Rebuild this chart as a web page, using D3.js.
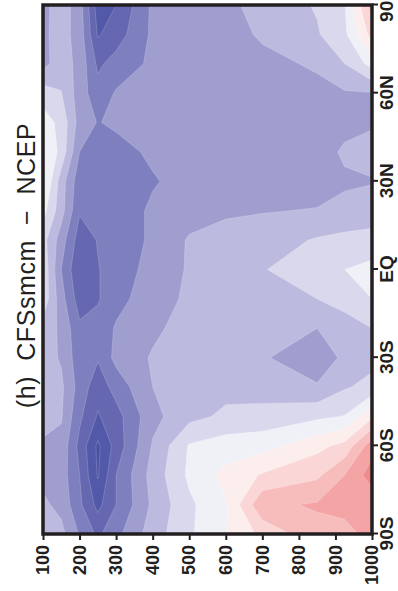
<!DOCTYPE html>
<html lang="en">
<head>
<meta charset="UTF-8">
<title>CFSsmcm - NCEP</title>
<script src="https://d3js.org/d3.v7.min.js"></script>
<style>
    body { margin: 0; background: #fff; }
    svg text { font-family: "Liberation Sans", Arial, Helvetica, sans-serif; fill: #231f20; }
</style>
</head>
<body>
<svg id="chart" width="398" height="591"></svg>
<script>
    // grid of the field: latitudes and pressure levels (hPa)
    const lats = [-90, -80, -70, -60, -50, -40, -30, -20, -10, 0, 10, 20, 30, 40, 50, 60, 70, 80, 90];
    const plev = [100, 150, 200, 250, 300, 400, 500, 600, 700, 850, 925, 1000];

    // difference at each latitude, one value per level of plev
    const d90S = [-2.4, -2.7, -4.1, -5.2, -4.3, -2.5, -1.15, -0.03, 1.25, 2.7, 2.9, 3.1];
    const d80S = [-2.8, -3.3, -4.8, -6.3, -5.0, -2.8, -1.2, -0.1, 2.8, 3.1, 3.1, 3.3];
    const d70S = [-3.3, -3.5, -5.0, -7.1, -5.0, -2.6, -0.8, 0.3, 1.1, 1.8, 3.0, 4.5];
    const d60S = [-3.2, -3.3, -5.3, -7.2, -5.6, -2.9, -0.9, -0.5, -0.4, 0.7, 1.3, 3.6];
    const d50S = [-2.5, -2.9, -4.8, -6.1, -5.4, -3.3, -2.3, -1.8, -1.6, -1.2, -0.95, 0.8];
    const d40S = [-2.5, -2.8, -4.4, -5.6, -4.6, -3.0, -2.5, -2.3, -2.5, -2.9, -2.1, -1.7];
    const d30S = [-2.6, -3.1, -4.6, -4.9, -3.7, -2.9, -2.7, -2.6, -2.9, -3.6, -2.8, -2.3];
    const d20S = [-2.4, -3.2, -4.8, -4.6, -3.9, -3.2, -2.6, -2.5, -2.6, -3.0, -2.6, -2.0];
    const d10S = [-1.3, -3.6, -5.5, -5.1, -4.3, -3.5, -2.8, -2.6, -2.4, -2.0, -1.5, -1.0];
    const dEQ  = [-1.2, -4.0, -5.9, -5.05, -4.6, -3.6, -2.9, -2.5, -2.05, -1.5, -1.0, -0.7];
    const d10N = [-1.6, -3.5, -5.5, -4.95, -4.7, -3.8, -2.9, -2.5, -2.5, -1.9, -1.7, -1.6];
    const d20N = [-0.6, -2.6, -4.9, -4.9, -4.7, -3.8, -3.4, -3.2, -3.05, -2.95, -2.8, -2.6];
    const d30N = [0.3, -2.5, -4.6, -4.8, -4.8, -4.1, -3.6, -3.5, -3.5, -3.4, -3.1, -3.05];
    const d40N = [0.1, -1.3, -4.0, -4.6, -4.4, -3.8, -3.5, -3.3, -3.4, -3.3, -2.9, -2.7];
    const d50N = [-0.5, -1.3, -3.4, -4.05, -3.8, -3.5, -3.4, -3.4, -3.4, -3.3, -3.2, -3.1];
    const d60N = [-1.5, -1.95, -3.5, -4.6, -3.9, -3.7, -3.5, -3.4, -3.3, -3.2, -3.1, -3.05];
    const d70N = [-3.3, -2.5, -3.3, -5.2, -4.6, -3.8, -3.4, -3.3, -3.2, -2.9, -2.0, -0.6];
    const d80N = [-3.2, -2.6, -3.4, -6.1, -5.5, -3.8, -3.5, -3.3, -2.9, -2.1, -1.2, 1.4];
    const d90N = [-3.3, -2.5, -3.5, -6.5, -6.0, -3.8, -3.5, -3.2, -2.7, -1.9, -1.05, 2.5];
    const rows = [d90S, d80S, d70S, d60S, d50S, d40S, d30S, d20S, d10S, dEQ,
                  d10N, d20N, d30N, d40N, d50N, d60N, d70N, d80N, d90N];

    // contour levels and shades
    const levels = [-7, -6, -5, -4, -3, -2, -1, 0, 1, 2, 3, 4, 5];
    const shades = ["#5259a8", "#6567b0", "#7e7fbe", "#9f9ecf", "#bcbbdf", "#d9d8ec", "#f0f0f7",
                    "#fdeeee", "#fad6d6", "#f7bdbd", "#f4a4a5", "#f08b8d", "#ec7274"];
    const lowShade = "#4a51a2";

    const pTicks = [100, 200, 300, 400, 500, 600, 700, 800, 900, 1000];
    const latTicks = [-90, -60, -30, 0, 30, 60, 90];
    const title = "(h)  CFSsmcm  \u2212  NCEP";

    // plot drawn unrotated, then the whole group is turned 90 deg counterclockwise
    const plotW = 529, plotH = 329;
    const svg = d3.select("#chart");
    const g = svg.append("g").attr("transform", "translate(43,534) rotate(-90)");

    const x = d3.scaleLinear().domain([-90, 90]).range([0, plotW]);
    const y = d3.scaleLinear().domain([100, 1000]).range([0, plotH]);

    // grid values, row = pressure level, column = latitude
    const n = lats.length, m = plev.length;
    const values = new Array(n * m);
    rows.forEach((r, i) => r.forEach((v, j) => { values[j * n + i] = v; }));

    // contour coords: sample i sits at i + 0.5
    const gridLat = d3.scaleLinear().domain(lats.map((d, i) => i + 0.5)).range(lats);
    const gridP = d3.scaleLinear().domain(plev.map((d, j) => j + 0.5)).range(plev);
    const proj = d3.geoTransform({
        point(px, py) { this.stream.point(x(gridLat(px)), y(gridP(py))); }
    });
    const path = d3.geoPath(proj);

    const contours = d3.contours().size([n, m]).thresholds(levels)(values);

    g.append("clipPath").attr("id", "clip")
        .append("rect").attr("width", plotW).attr("height", plotH);

    const field = g.append("g").attr("clip-path", "url(#clip)");
    field.append("rect").attr("width", plotW).attr("height", plotH).attr("fill", lowShade);
    field.selectAll("path")
        .data(contours)
        .enter().append("path")
        .attr("d", path)
        .attr("fill", (d, i) => shades[i])
        .attr("stroke", "#ffffff")
        .attr("stroke-opacity", 0.3)
        .attr("stroke-width", 0.6);

    // pressure axis (ends up under the plot)
    const pAxis = g.append("g")
        .call(d3.axisLeft(y).tickValues(pTicks).tickFormat(d3.format("d")).tickSize(6).tickPadding(5));
    // latitude axis (ends up right of the plot)
    const latFmt = d => d === 0 ? "EQ" : Math.abs(d) + (d < 0 ? "S" : "N");
    const latAxis = g.append("g")
        .attr("transform", "translate(0," + plotH + ")")
        .call(d3.axisBottom(x).tickValues(latTicks).tickFormat(latFmt).tickSize(6).tickPadding(2));

    [pAxis, latAxis].forEach(ax => {
        ax.select(".domain").remove();
        ax.selectAll(".tick line").attr("stroke", "#231f20").attr("stroke-width", 2);
        ax.selectAll(".tick text")
            .attr("fill", "#231f20")
            .style("font-weight", "bold");
    });
    pAxis.selectAll(".tick text").style("font-size", "18px");
    latAxis.selectAll(".tick text").style("font-size", "19px");

    // frame
    g.append("rect")
        .attr("width", plotW).attr("height", plotH)
        .attr("fill", "none")
        .attr("stroke", "#231f20")
        .attr("stroke-width", 3.5);

    // title
    g.append("text")
        .attr("x", plotW / 2 + 4)
        .attr("y", -8)
        .attr("text-anchor", "middle")
        .style("white-space", "pre")
        .style("font-size", "25px")
        .style("letter-spacing", "0.6px")
        .text(title);
</script>
</body>
</html>
